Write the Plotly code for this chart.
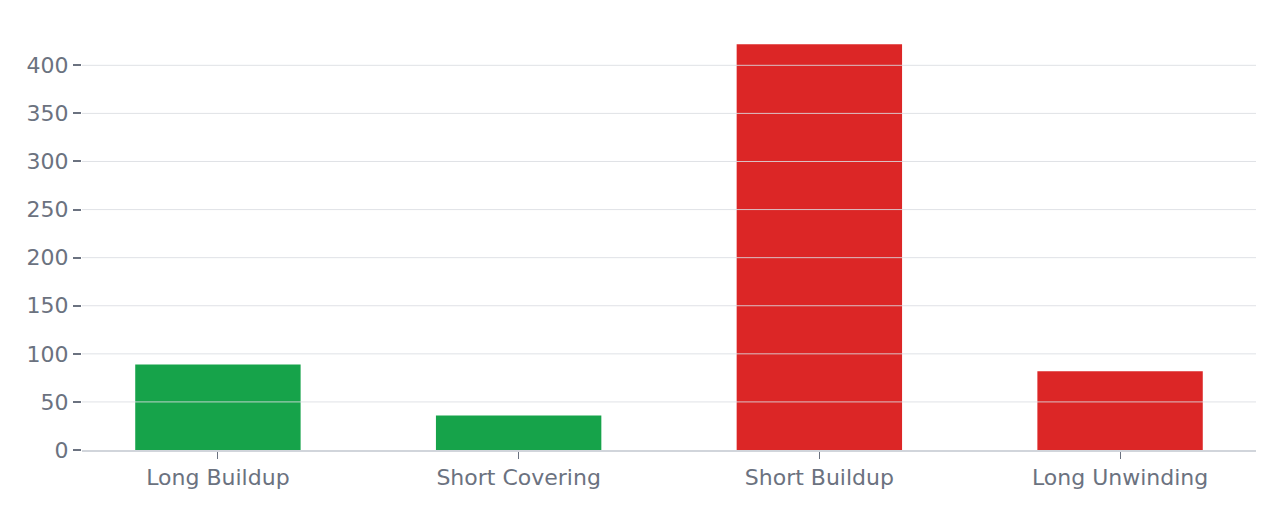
import plotly.graph_objects as go

# OI buildup categories and counts
categories = ["Long Buildup", "Short Covering", "Short Buildup", "Long Unwinding"]
counts = [89, 36, 422, 82]
bar_colors = ["#16a34a", "#16a34a", "#dc2626", "#dc2626"]
y_ticks = [0, 50, 100, 150, 200, 250, 300, 350, 400]

fig = go.Figure(go.Bar(x=categories, y=counts, marker_color=bar_colors,
                       marker_line_width=0))

# gridlines sit on top of the bars in the original
for v in y_ticks[1:]:
    fig.add_hline(y=v, line_color="rgba(218,221,226,0.85)", line_width=1,
                  layer="above")

# page body adds an 8px offset, margins compensate for it
fig.update_layout(
    width=1280, height=512,
    margin=dict(l=74, r=32, t=15, b=70),
    paper_bgcolor="white", plot_bgcolor="white",
    font=dict(family="DejaVu Sans", size=22, color="#6b7280"),
    bargap=0.45,
    showlegend=False,
)
fig.update_xaxes(showgrid=False, showline=True, linecolor="#d1d5db", linewidth=2,
                 ticks="outside", ticklen=7, tickcolor="#6b7280", tickwidth=1,
                 range=[-0.452, 3.452], layer="above traces", automargin=False)
fig.update_yaxes(showgrid=False, zeroline=False, tickvals=y_ticks,
                 ticks="outside", ticklen=8, tickcolor="#6b7280", tickwidth=2,
                 range=[0, 444], layer="above traces", automargin=False)

fig.write_html("out.html")
